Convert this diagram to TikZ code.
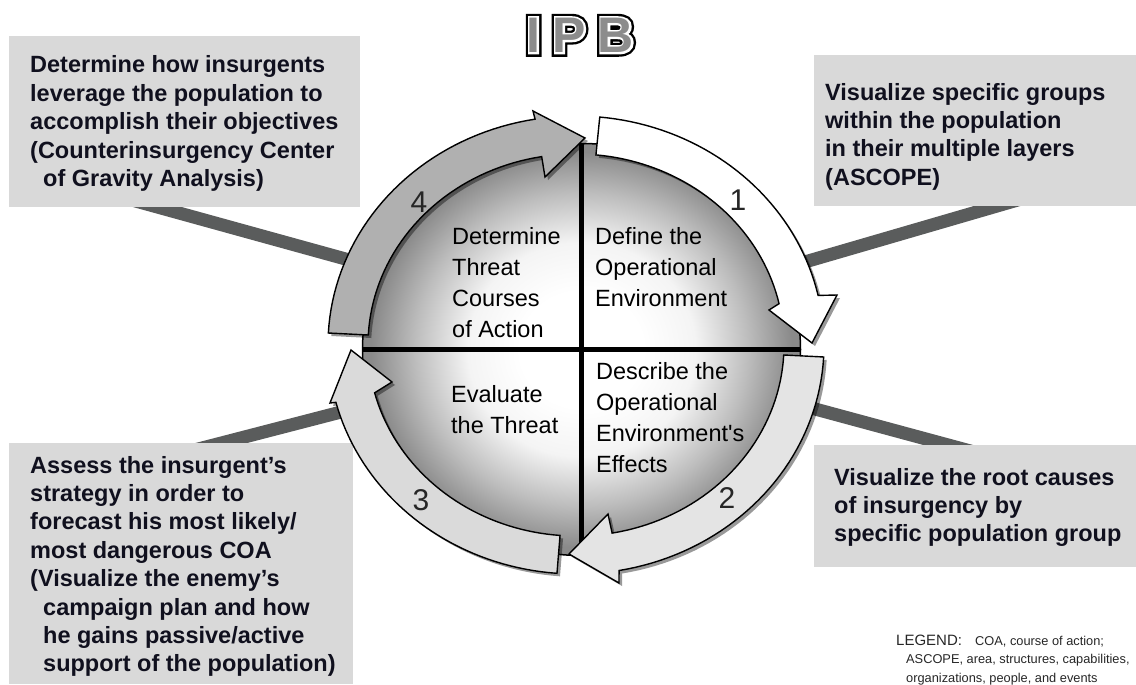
\documentclass[tikz,border=0pt]{standalone}
\usepackage{fontspec}
\setmainfont{Liberation Sans}
\newfontfamily\titleouter[BoldFeatures={FakeBold=17}, LetterSpace=24]{Liberation Sans}
\newfontfamily\titleinner[BoldFeatures={FakeBold=7.6}, LetterSpace=24]{Liberation Sans}
\newfontfamily\titlecore[LetterSpace=24]{Liberation Sans}
\usetikzlibrary{shadows,shapes.geometric}
\definecolor{boxgray}{HTML}{D9D9D9}
\definecolor{bargray}{HTML}{5A5C5C}
\definecolor{navy}{HTML}{10101E}
\definecolor{arrowA}{HTML}{FFFFFF}
\definecolor{arrowB}{HTML}{E4E4E4}
\definecolor{arrowC}{HTML}{DADADA}
\definecolor{arrowD}{HTML}{B0B0B0}
\definecolor{rimgray}{HTML}{8A8A8A}
\definecolor{midgray}{HTML}{BDBDBD}
\definecolor{lightgray}{HTML}{F4F4F4}
\definecolor{titlegray}{HTML}{8C8C8C}
\pgfdeclareradialshading{discshade}{\pgfpoint{0bp}{0bp}}{color(0bp)=(white); color(7bp)=(white); color(13bp)=(lightgray); color(19bp)=(midgray); color(24bp)=(rimgray); color(50bp)=(rimgray)}
\newcommand\boxfont{\fontsize{23.5}{28.4}\selectfont\bfseries}
\newcommand\quadfont{\fontsize{23.5}{31}\selectfont}
\newcommand\numfont{\fontsize{30}{30}\selectfont}
\newcommand\legendbig{\fontsize{15}{18}\selectfont}
\newcommand\legendfont{\fontsize{12.8}{18.5}\selectfont}
\begin{document}
\begin{tikzpicture}[x=1pt,y=-1pt,
  bar/.style={draw=bargray, line width=13pt},
  infobox/.style={fill=boxgray, draw=none, inner sep=0, anchor=north west},
  disc/.style={ellipse, draw=black, line width=1.5pt, shading=discshade, minimum width=438, minimum height=412, inner sep=0},
  divider/.style={draw=black, line width=5pt},
  ringarrow/.style={draw=black, line width=1.4pt, line join=miter,
    drop shadow={shadow xshift=3pt, shadow yshift=-3pt, opacity=0.4, fill=black}},
  boxtext/.style={anchor=base west, inner sep=0, font=\boxfont, text=navy},
  quadtext/.style={anchor=base west, inner sep=0, font=\quadfont, text=black},
  stepnum/.style={anchor=base, inner sep=0, font=\numfont, text=black!85},
  titletext/.style={anchor=base west, inner sep=0},
  legendtext/.style={anchor=base west, inner sep=0, font=\legendfont, text=black!85}]
\useasboundingbox (0,0) rectangle (1136,685);

% connector bars (behind boxes and ring)
\coordinate (tlA) at (120,196.7);  \coordinate (tlB) at (380,268.5);
\coordinate (trA) at (1040,193.5); \coordinate (trB) at (790,266.3);
\coordinate (blA) at (170,456.3);  \coordinate (blB) at (370,404.5);
\coordinate (brA) at (990,456.3);  \coordinate (brB) at (790,402.2);
\draw[bar] (tlA) -- (tlB);
\draw[bar] (trA) -- (trB);
\draw[bar] (blA) -- (blB);
\draw[bar] (brA) -- (brB);

% grey boxes
\node[infobox, minimum width=351, minimum height=171] (tlbox) at (9,36) {};
\node[infobox, minimum width=322, minimum height=151] (trbox) at (814,55) {};
\node[infobox, minimum width=344, minimum height=241] (blbox) at (9,443) {};
\node[infobox, minimum width=322, minimum height=122] (brbox) at (814,445) {};

% box texts
\node[boxtext] (tltext) at (30,73) {\begin{tabular}[t]{@{}l@{}}Determine how insurgents\\ leverage the population to\\ accomplish their objectives\\ (Counterinsurgency Center\\ \hspace*{13pt}of Gravity Analysis)\end{tabular}};
\node[boxtext] (trtext) at (825,100) {\begin{tabular}[t]{@{}l@{}}Visualize specific groups\\ within the population\\ in their multiple layers\\ (ASCOPE)\end{tabular}};
\node[boxtext] (bltext) at (30,473) {\begin{tabular}[t]{@{}l@{}}Assess the insurgent’s\\ strategy in order to\\ forecast his most likely/\\ most dangerous COA\\ (Visualize the enemy’s\\ \hspace*{13pt}campaign plan and how\\ \hspace*{13pt}he gains passive/active\\ \hspace*{13pt}support of the population)\end{tabular}};
\node[boxtext] (brtext) at (834,485) {\begin{tabular}[t]{@{}l@{}}Visualize the root causes\\ of insurgency by\\ specific population group\end{tabular}};

% central disc with dividers
\node[disc] (disc) at (581.5,349.5) {};
\draw[divider] (disc.north) -- (disc.south);
\draw[divider] (disc.west) -- (disc.east);

% ring arrows
\filldraw[ringarrow, fill=arrowA]
  plot[domain=84.5:12.5, samples=40] ({576+248*cos(\x)},{345-229*sin(\x)})
  -- (837,295) -- (812,343) -- (769,310)
  -- plot[domain=12.5:84.5, samples=40] ({576+208*cos(\x)},{345-191*sin(\x)}) -- cycle;
\filldraw[ringarrow, fill=arrowB]
  plot[domain=-3:-80, samples=40] ({576+248*cos(\x)},{345-229*sin(\x)})
  -- (619,583) -- (569,554) -- (608,514)
  -- plot[domain=-80:-3, samples=40] ({576+208*cos(\x)},{345-191*sin(\x)}) -- cycle;
\filldraw[ringarrow, fill=arrowC]
  plot[domain=265.6:194.5, samples=40] ({576+248*cos(\x)},{345-229*sin(\x)})
  -- (330,403) -- (351,350) -- (392,382)
  -- plot[domain=194.5:265.6, samples=40] ({576+208*cos(\x)},{345-191*sin(\x)}) -- cycle;
\filldraw[ringarrow, fill=arrowD]
  plot[domain=177:99.5, samples=40] ({576+248*cos(\x)},{345-229*sin(\x)})
  -- (533,111) -- (585,138) -- (545,177)
  -- plot[domain=99.5:177, samples=40] ({576+208*cos(\x)},{345-191*sin(\x)}) -- cycle;

% quadrant texts
\node[quadtext] (q4) at (452,244) {\begin{tabular}[t]{@{}l@{}}Determine\\ Threat\\ Courses\\ of Action\end{tabular}};
\node[quadtext] (q1) at (595,244) {\begin{tabular}[t]{@{}l@{}}Define the\\ Operational\\ Environment\end{tabular}};
\node[quadtext] (q3) at (451,402) {\begin{tabular}[t]{@{}l@{}}Evaluate\\ the Threat\end{tabular}};
\node[quadtext] (q2) at (596,379) {\begin{tabular}[t]{@{}l@{}}Describe the\\ Operational\\ Environment\textquotesingle s\\ Effects\end{tabular}};

% step numbers
\node[stepnum] (n1) at (738,210) {1};
\node[stepnum] (n2) at (727,508) {2};
\node[stepnum] (n3) at (421,510) {3};
\node[stepnum] (n4) at (419,212) {4};

% title IPB (outlined letters: black stroke, white inline, grey core)
\node[titletext, text=black, font={\titleouter\bfseries\fontsize{50}{50}\selectfont}] (titleO) at (526.5,52.5) {IPB};
\node[titletext, text=white, font={\titleinner\bfseries\fontsize{50}{50}\selectfont}] (titleW) at (526.5,52.5) {IPB};
\node[titletext, text=titlegray, font={\titlecore\bfseries\fontsize{50}{50}\selectfont}] (title) at (526.5,52.5) {IPB};

% legend
\node[anchor=base west, inner sep=0, font=\legendbig, text=black!85] (legA) at (896,645) {LEGEND:};
\node[legendtext] (legB) at (975,645) {COA, course of action;};
\node[legendtext] (legC) at (906,663) {ASCOPE, area, structures, capabilities,};
\node[legendtext] (legD) at (906,682) {organizations, people, and events};
\end{tikzpicture}
\end{document}
